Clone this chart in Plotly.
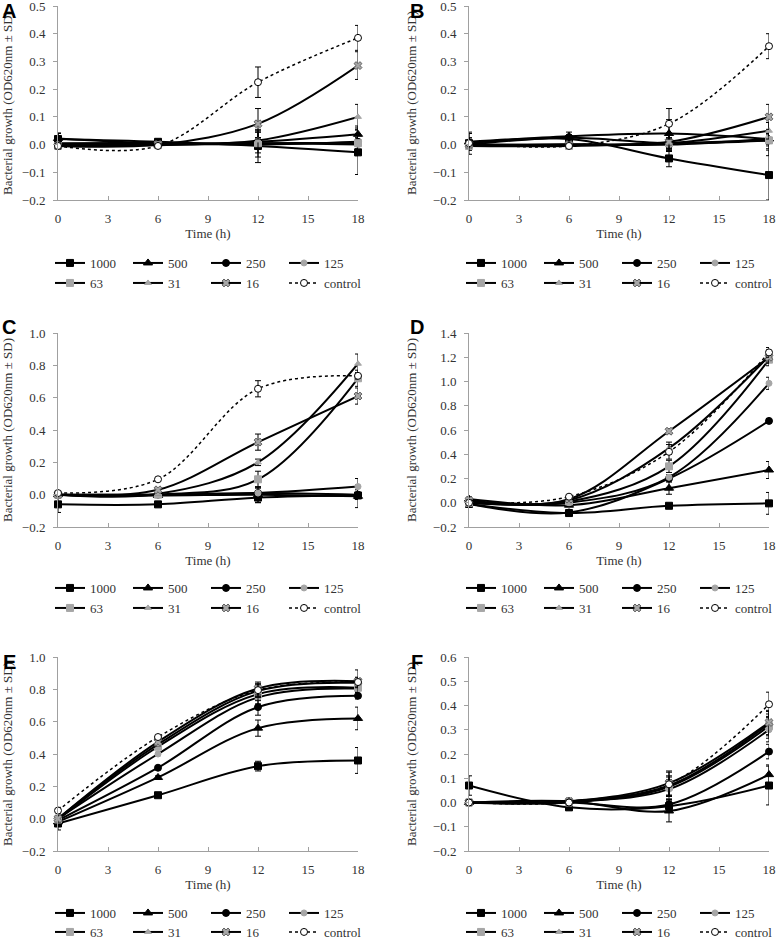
import plotly.graph_objects as go

# ---------------- data ----------------
time_h = [0, 6, 12, 18]
series_names = ["1000", "500", "250", "125", "63", "31", "16", "control"]
panel_labels = ["A", "B", "C", "D", "E", "F"]
x_ticks = [0, 3, 6, 9, 12, 15, 18]
y_ranges = [[-0.2, 0.5], [-0.2, 0.5], [-0.2, 1.0], [-0.2, 1.4], [-0.2, 1.0], [-0.2, 0.6]]
y_dticks = [0.1, 0.1, 0.2, 0.2, 0.2, 0.1]

A_means = [
    [0.020, 0.010, -0.005, -0.028],
    [0.022, 0.005, 0.010, 0.037],
    [0.005, 0.005, 0.000, 0.010],
    [0.000, 0.000, 0.005, 0.000],
    [-0.005, -0.002, 0.005, 0.005],
    [0.000, 0.000, 0.015, 0.100],
    [-0.005, 0.000, 0.075, 0.285],
    [-0.005, -0.005, 0.225, 0.385],
]
A_sd = [
    [0.020, 0.010, 0.060, 0.080],
    [0.020, 0.010, 0.040, 0.030],
    [0.015, 0.010, 0.045, 0.050],
    [0.010, 0.005, 0.020, 0.020],
    [0.010, 0.005, 0.020, 0.020],
    [0.010, 0.005, 0.030, 0.045],
    [0.010, 0.005, 0.055, 0.050],
    [0.010, 0.005, 0.055, 0.045],
]

B_means = [
    [0.005, 0.020, -0.050, -0.110],
    [0.010, 0.030, 0.040, 0.020],
    [0.000, 0.025, 0.005, 0.015],
    [-0.005, 0.000, 0.000, 0.020],
    [-0.005, -0.005, 0.005, 0.015],
    [0.000, 0.000, 0.005, 0.050],
    [0.000, 0.000, 0.010, 0.100],
    [0.005, -0.005, 0.075, 0.355],
]
B_sd = [
    [0.020, 0.015, 0.030, 0.090],
    [0.030, 0.015, 0.050, 0.060],
    [0.020, 0.010, 0.030, 0.030],
    [0.010, 0.010, 0.020, 0.020],
    [0.010, 0.010, 0.020, 0.020],
    [0.010, 0.010, 0.020, 0.030],
    [0.010, 0.010, 0.030, 0.045],
    [0.040, 0.005, 0.055, 0.045],
]

C_means = [
    [-0.060, -0.060, -0.018, -0.005],
    [0.000, -0.005, 0.000, -0.010],
    [0.000, 0.000, 0.010, 0.000],
    [0.000, 0.000, 0.010, 0.050],
    [0.000, 0.000, 0.095, 0.720],
    [0.000, 0.005, 0.200, 0.810],
    [0.000, 0.030, 0.325, 0.610],
    [0.010, 0.095, 0.655, 0.735],
]
C_sd = [
    [0.050, 0.005, 0.030, 0.020],
    [0.020, 0.010, 0.050, 0.070],
    [0.010, 0.005, 0.030, 0.030],
    [0.010, 0.010, 0.010, 0.050],
    [0.010, 0.010, 0.050, 0.050],
    [0.010, 0.010, 0.020, 0.060],
    [0.010, 0.010, 0.050, 0.050],
    [0.010, 0.010, 0.050, 0.020],
]

D_means = [
    [-0.010, -0.085, -0.025, -0.005],
    [0.030, -0.020, 0.120, 0.270],
    [-0.010, -0.080, 0.200, 0.675],
    [0.000, 0.000, 0.210, 0.985],
    [0.000, 0.010, 0.300, 1.180],
    [0.010, 0.020, 0.450, 1.210],
    [0.020, 0.030, 0.590, 1.200],
    [0.000, 0.050, 0.420, 1.240],
]
D_sd = [
    [0.020, 0.020, 0.020, 0.090],
    [0.020, 0.010, 0.050, 0.070],
    [0.020, 0.010, 0.020, 0.020],
    [0.020, 0.010, 0.020, 0.050],
    [0.020, 0.010, 0.050, 0.050],
    [0.020, 0.010, 0.050, 0.050],
    [0.020, 0.010, 0.020, 0.050],
    [0.020, 0.010, 0.060, 0.040],
]

E_means = [
    [-0.030, 0.145, 0.325, 0.360],
    [-0.020, 0.255, 0.560, 0.620],
    [-0.010, 0.315, 0.690, 0.760],
    [0.000, 0.400, 0.750, 0.805],
    [-0.005, 0.445, 0.770, 0.810],
    [0.000, 0.460, 0.790, 0.840],
    [0.000, 0.475, 0.805, 0.850],
    [0.050, 0.505, 0.795, 0.845],
]
E_sd = [
    [0.040, 0.010, 0.030, 0.080],
    [0.020, 0.010, 0.050, 0.070],
    [0.020, 0.010, 0.050, 0.020],
    [0.020, 0.010, 0.040, 0.020],
    [0.020, 0.010, 0.040, 0.020],
    [0.020, 0.010, 0.040, 0.030],
    [0.020, 0.010, 0.040, 0.070],
    [0.020, 0.010, 0.040, 0.030],
]

F_means = [
    [0.070, -0.020, -0.015, 0.070],
    [0.000, 0.005, -0.035, 0.115],
    [0.000, 0.000, -0.008, 0.210],
    [0.000, 0.005, 0.055, 0.300],
    [0.000, 0.000, 0.065, 0.315],
    [0.000, 0.005, 0.070, 0.325],
    [0.000, 0.005, 0.080, 0.330],
    [0.000, 0.000, 0.075, 0.405],
]
F_sd = [
    [0.040, 0.010, 0.020, 0.080],
    [0.010, 0.010, 0.045, 0.040],
    [0.010, 0.010, 0.020, 0.030],
    [0.010, 0.010, 0.040, 0.050],
    [0.010, 0.010, 0.040, 0.050],
    [0.010, 0.010, 0.040, 0.050],
    [0.010, 0.010, 0.050, 0.050],
    [0.010, 0.010, 0.050, 0.050],
]

panel_means = [A_means, B_means, C_means, D_means, E_means, F_means]
panel_sd = [A_sd, B_sd, C_sd, D_sd, E_sd, F_sd]

# ---------------- styles ----------------
W, H = 777, 960   # a little taller than the window so the last legend row has room
GRAY = "#a6a6a6"
AXIS = "#a0a0a0"
TXT = "#333333"
SERIF = "Liberation Serif"

styles = [
    dict(symbol="square", color="black", size=7, lc="black", dash="solid"),
    dict(symbol="triangle-up", color="black", size=8, lc="black", dash="solid"),
    dict(symbol="circle", color="black", size=7, lc="black", dash="solid"),
    dict(symbol="circle", color=GRAY, size=6, lc=GRAY, dash="solid"),
    dict(symbol="square", color=GRAY, size=7, lc=GRAY, dash="solid"),
    dict(symbol="triangle-up", color=GRAY, size=6, lc=GRAY, dash="solid"),
    dict(symbol="x", color=GRAY, size=7, lc="#606060", dash="solid"),
    dict(symbol="circle", color="white", size=7, lc="black", dash="dot"),
]

col_left = [58, 469]          # px, left edge of plot area
row_top = [6, 333, 657]       # px, top edge of plot area
plot_w, plot_h = 300, 194
legend_rows = [[263, 283], [588, 608], [913, 932]]
legend_line_start = [57, 468]
letter_y = [11, 327, 662]
letter_x = [9, 417]

fig = go.Figure()
layout = dict(
    template="none",
    width=W, height=H,
    margin=dict(l=0, r=0, t=0, b=0, autoexpand=False),
    paper_bgcolor="white", plot_bgcolor="white",
    font=dict(family=SERIF, size=13, color=TXT),
    showlegend=True,
)
annotations = []

for p in range(6):
    r, c = divmod(p, 2)
    ax_suffix = "" if p == 0 else str(p + 1)
    x0 = col_left[c] / W
    x1 = (col_left[c] + plot_w) / W
    y1 = 1 - row_top[r] / H
    y0 = 1 - (row_top[r] + plot_h) / H
    lo, hi = y_ranges[p]
    n_ticks = int(round((hi - lo) / y_dticks[p])) + 1
    y_tickvals = [round(lo + k * y_dticks[p], 2) for k in range(n_ticks)]
    layout["xaxis" + ax_suffix] = dict(
        domain=[x0, x1], anchor="y" + ax_suffix, range=[0, 18],
        tickmode="array", tickvals=x_ticks, automargin=False,
        ticklabeloverflow="allow",
        showline=True, linecolor=AXIS, linewidth=1,
        ticks="inside", ticklen=4, tickcolor=AXIS,
        showgrid=False, zeroline=False,
        tickfont=dict(family=SERIF, size=13, color=TXT),
        ticklabelstandoff=6,
        title=dict(text="Time (h)", font=dict(family=SERIF, size=13, color=TXT), standoff=4),
    )
    layout["yaxis" + ax_suffix] = dict(
        domain=[y0, y1], anchor="x" + ax_suffix, range=y_ranges[p],
        tickmode="array", tickvals=y_tickvals, tickformat=".1f", automargin=False,
        ticklabeloverflow="allow",
        showline=True, linecolor=AXIS, linewidth=1,
        ticks="outside", ticklen=4, tickcolor=AXIS,
        showgrid=False, zeroline=False,
        tickfont=dict(family=SERIF, size=13, color=TXT),
        ticklabelstandoff=5,
        title=dict(text="Bacterial growth (OD620nm ± SD)",
                   font=dict(family=SERIF, size=13, color=TXT), standoff=13),
    )
    annotations.append(dict(
        text="<b>%s</b>" % panel_labels[p], xref="paper", yref="paper",
        x=letter_x[c] / W, y=1 - letter_y[r] / H, xanchor="center", yanchor="middle",
        showarrow=False, font=dict(family="Liberation Sans", size=20, color="black"),
    ))
    for lr in range(2):
        lname = "legend" if (p == 0 and lr == 0) else "legend%d" % (p * 2 + lr + 1)
        layout[lname] = dict(
            orientation="h", x=(legend_line_start[c] - 7) / W, y=1 - legend_rows[r][lr] / H,
            xanchor="left", yanchor="middle", bgcolor="rgba(0,0,0,0)",
            entrywidth=33, entrywidthmode="pixels", itemwidth=30,
            font=dict(family=SERIF, size=13, color=TXT), traceorder="normal",
            itemclick=False, itemdoubleclick=False, tracegroupgap=0,
        )

    for i, name in enumerate(series_names):
        st = styles[i]
        lr = 0 if i < 4 else 1
        lname = "legend" if (p == 0 and lr == 0) else "legend%d" % (p * 2 + lr + 1)
        is_ctrl = name == "control"
        fig.add_trace(go.Scatter(
            x=time_h, y=panel_means[p][i], name=name,
            mode="lines+markers",
            line=dict(color="black", width=1.5 if is_ctrl else 2, dash=st["dash"],
                      shape="spline", smoothing=1.0),
            marker=dict(symbol=st["symbol"], color=st["color"], size=st["size"],
                        line=dict(color=st["lc"], width=1)),
            error_y=dict(type="data", array=panel_sd[p][i], visible=True,
                         color="black", thickness=1, width=3),
            xaxis="x" + ax_suffix, yaxis="y" + ax_suffix,
            legend=lname, cliponaxis=False,
        ))

layout["annotations"] = annotations
fig.update_layout(**layout)
fig.write_html("out.html",
               config={"displayModeBar": False},
               post_script="document.body.style.margin='0';document.body.style.overflow='hidden';")
